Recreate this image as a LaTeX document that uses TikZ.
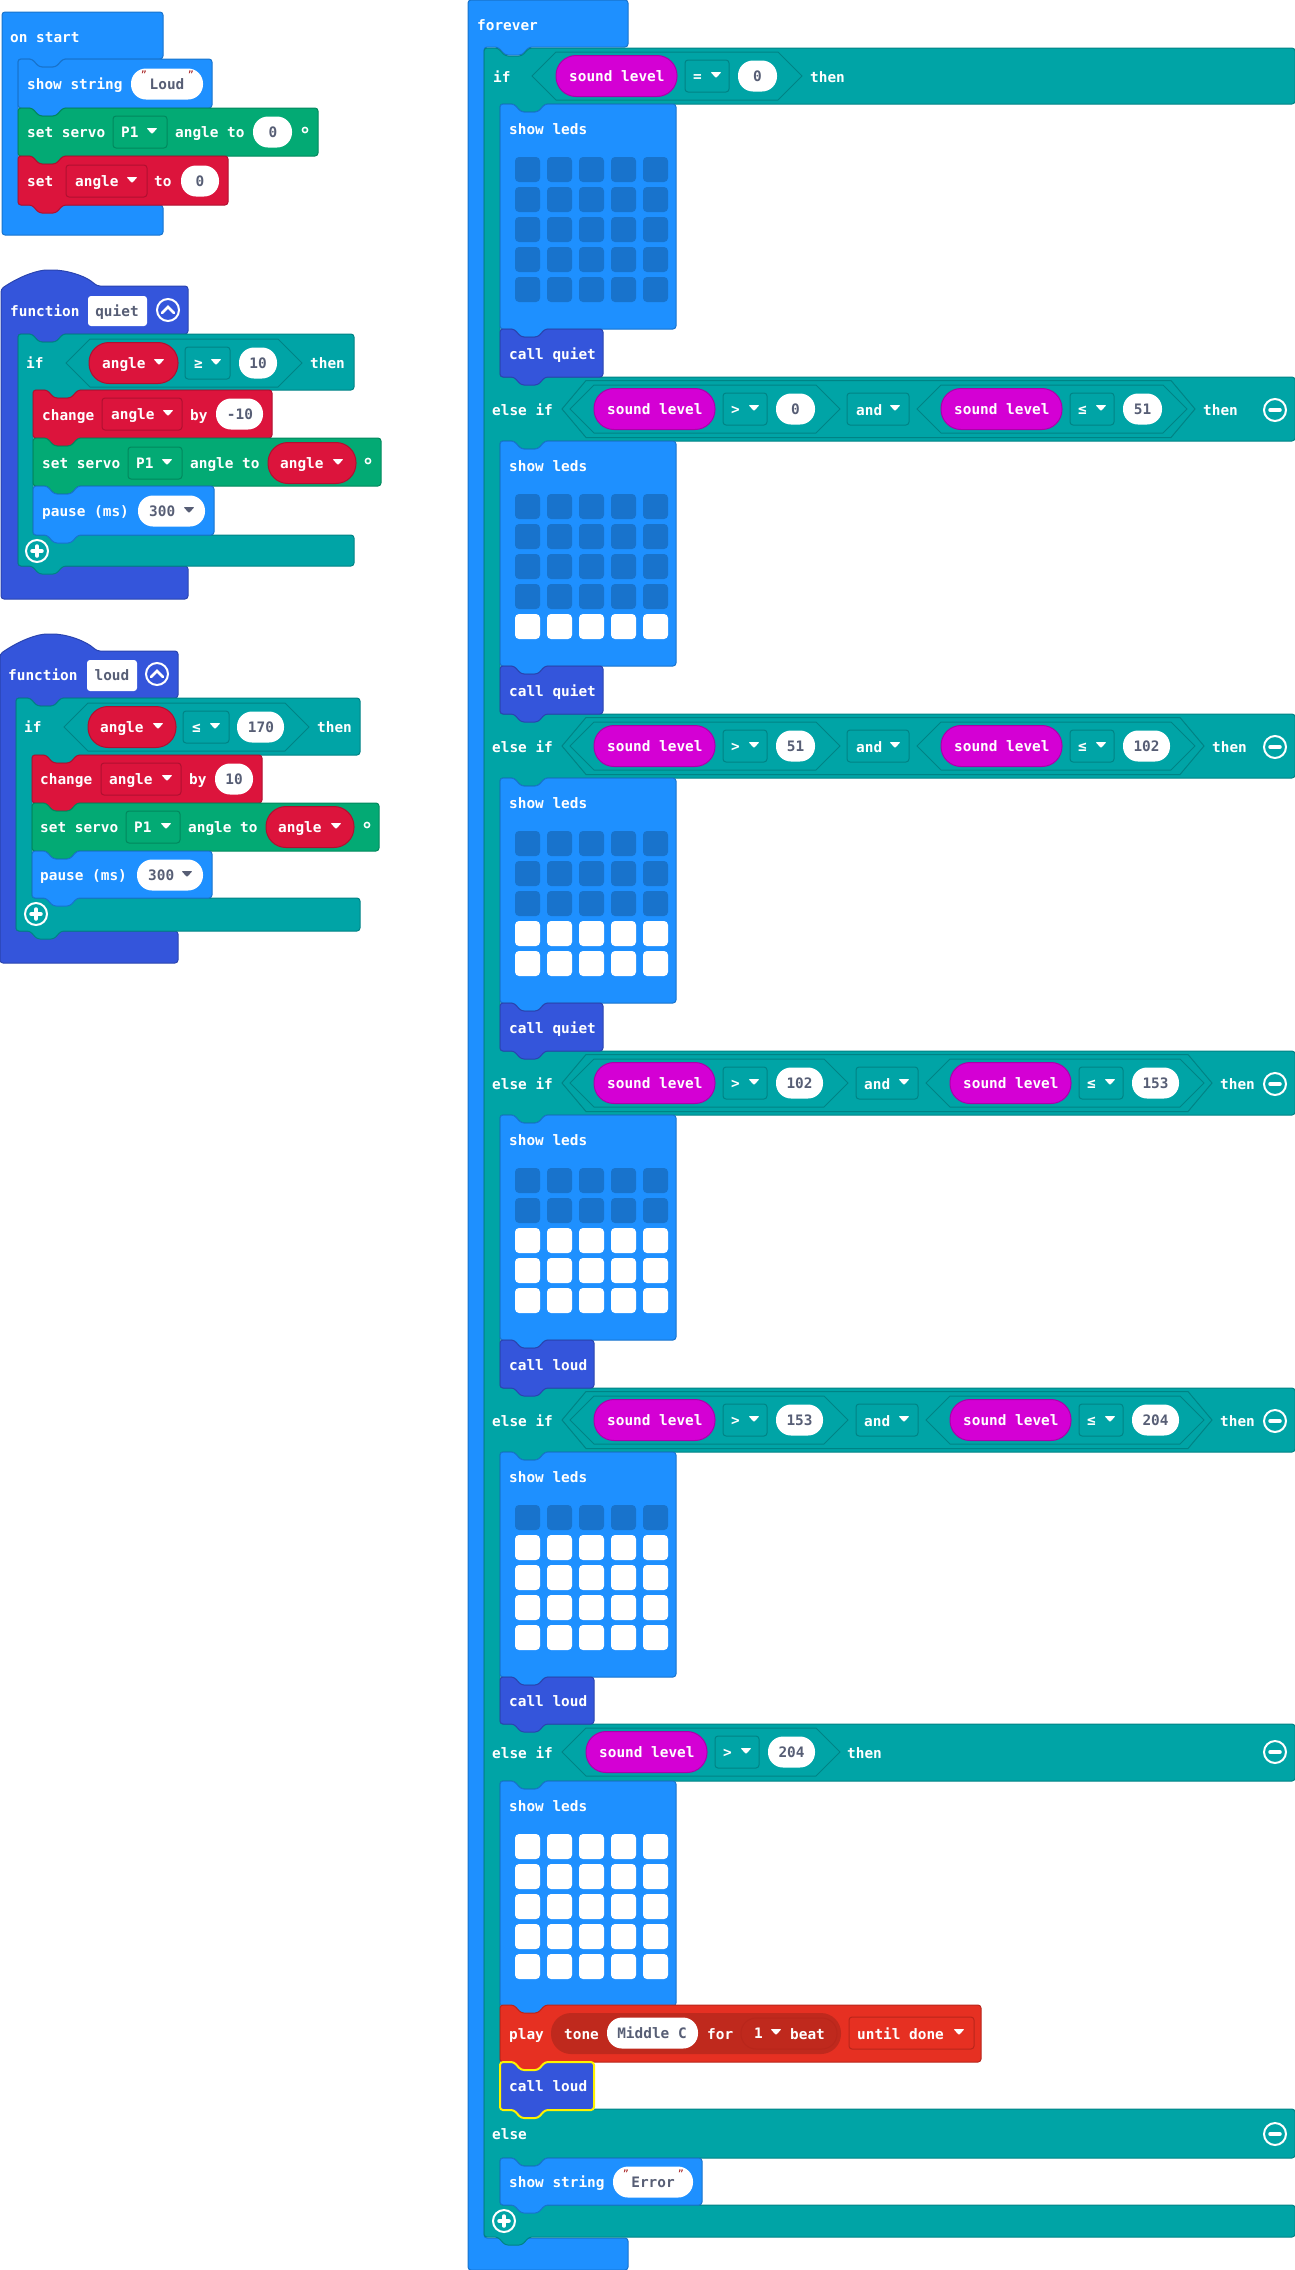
\documentclass[tikz,border=0pt]{standalone}
\usepackage{fontspec}
\setmainfont{DejaVu Sans Mono}
\usepackage{tikz}

\definecolor{basicblue}{HTML}{1E90FF}
\definecolor{basicdark}{HTML}{1873CC}
\definecolor{logicteal}{HTML}{00A4A6}
\definecolor{logicdark}{HTML}{008385}
\definecolor{servogreen}{HTML}{03AA74}
\definecolor{servodark}{HTML}{02885D}
\definecolor{varred}{HTML}{DC143C}
\definecolor{vardark}{HTML}{B01030}
\definecolor{funcblue}{HTML}{3455DB}
\definecolor{funcdark}{HTML}{2A44AF}
\definecolor{inputpink}{HTML}{D400D4}
\definecolor{inputdark}{HTML}{AA00AA}
\definecolor{musicred}{HTML}{E63022}
\definecolor{musicdark}{HTML}{B8261B}
\definecolor{musicpill}{HTML}{BF291D}
\definecolor{fieldgray}{HTML}{575E75}
\definecolor{quotered}{HTML}{A31515}

\newcommand{\blockfont}{\fontsize{14.4}{16}\selectfont\bfseries}
\tikzset{
  lab/.style={text=white,font=\blockfont,inner sep=0pt,anchor=west,text height=10.5pt,text depth=0pt},
  val/.style={text=fieldgray,font=\blockfont,inner sep=0pt,anchor=center,text height=10.5pt,text depth=0pt},
  vall/.style={val,anchor=west},
  quotemark/.style={text=quotered,font=\fontsize{10}{10}\selectfont,inner sep=0pt,anchor=center},
  basicblock/.style={fill=basicblue,draw=basicdark,line width=1pt,rounded corners=3},
  logicblock/.style={fill=logicteal,draw=logicdark,line width=1pt,rounded corners=3},
  servoblock/.style={fill=servogreen,draw=servodark,line width=1pt,rounded corners=3},
  varblock/.style={fill=varred,draw=vardark,line width=1pt,rounded corners=3},
  funcblock/.style={fill=funcblue,draw=funcdark,line width=1pt,rounded corners=3},
  musicblock/.style={fill=musicred,draw=musicdark,line width=1pt,rounded corners=3},
  hexline/.style={draw=logicdark,line width=1pt}
}

\newcounter{blocknode}
\newcommand{\lab}[4][lab]{\stepcounter{blocknode}\node[#1] (n\theblocknode) at (#2,#3) {#4};}
\newcommand{\ntop}[2]{-- ({#1+14},#2) -- ({#1+21},{#2+8}) -- ({#1+38},{#2+8}) -- ({#1+45},#2)}
\newcommand{\ntab}[2]{-- ({#1+45},#2) -- ({#1+38},{#2+8}) -- ({#1+21},{#2+8}) -- ({#1+14},#2)}
% style, x1, y1, x2, y2
\newcommand{\stackblock}[5]{\draw[#1] (#2,#3) \ntop{#2}{#3} -- (#4,#3) -- (#4,#5) \ntab{#2}{#5} -- (#2,#5) -- cycle;}
\newcommand{\tri}[3][white]{\fill[#1,rounded corners=1] ({#2-5.5},{#3-4}) -- ({#2+5.5},{#3-4}) -- (#2,{#3+2}) -- cycle;}
% dropdown: colour, dark, x1, x2, y
\newcommand{\dropbox}[5]{\draw[fill=#1,draw=#2,line width=1pt,rounded corners=3] (#3,{#5-16}) rectangle (#4,{#5+16});}
\newcommand{\whitepill}[3]{\fill[white,rounded corners=15] (#1,{#3-15.5}) rectangle (#2,{#3+15.5});}
\newcommand{\pill}[5]{\draw[fill=#1,draw=#2,line width=1pt,rounded corners=20] (#3,{#5-20.5}) rectangle (#4,{#5+20.5});}
% left tip, right tip, y, half height
\newcommand{\hexa}[4]{\draw[hexline] (#1,#3) -- ({#1+24},{#3-#4}) -- ({#2-24},{#3-#4}) -- (#2,#3) -- ({#2-24},{#3+#4}) -- ({#1+24},{#3+#4}) -- cycle;}
% left tip, y, operator, value, width of value
\newcommand{\soundcmp}[5]{
  \hexa{#1}{#1+231+#5}{#2}{24}
  \pill{inputpink}{inputdark}{#1+24}{#1+145}{#2}
  \lab{#1+37}{#2}{sound level}
  \dropbox{logicteal}{logicdark}{#1+153}{#1+197}{#2}
  \lab{#1+161}{#2}{#3}
  \tri{#1+184}{#2}
  \whitepill{#1+206}{#1+206+#5}{#2}
  \lab[val]{#1+206+#5/2}{#2}{#4}
}
\newcommand{\showleds}[2]{
  \stackblock{basicblock}{500}{#1}{676}{#1+225}
  \lab{509}{#1+25}{show leds}
  \foreach \col in {0,...,4} {
    \foreach \row in {0,...,4} {
      \pgfmathparse{\row>=5-#2?"white":"basicdark"}
      \fill[\pgfmathresult,rounded corners=4] ({515+32*\col},{#1+53+30*\row}) rectangle ++(25,25);
    }
  }
}
\newcommand{\minusicon}[2]{
  \draw[white,line width=2pt] (#1,#2) circle (11);
  \draw[white,line width=3.5pt,line cap=round] ({#1-5},#2) -- ({#1+5},#2);
}
\newcommand{\plusicon}[2]{
  \draw[white,line width=2pt] (#1,#2) circle (11);
  \draw[white,line width=3.5pt,line cap=round] ({#1-5},#2) -- ({#1+5},#2) (#1,{#2-5}) -- (#1,{#2+5});
}
\newcommand{\upicon}[2]{
  \draw[white,line width=2pt] (#1,#2) circle (11);
  \draw[white,line width=2.5pt,line cap=round] ({#1-6},{#2+3}) -- (#1,{#2-3}) -- ({#1+6},{#2+3});
}
\newcommand{\degmark}[2]{\draw[white,line width=1.5pt] (#1,#2) circle (2.6);}

\begin{document}
\begin{tikzpicture}[x=1pt,y=-1pt]
  \useasboundingbox (0,0) rectangle (1295,2270);

  % on start
  \draw[basicblock] (2,12) -- (163,12) -- (163,59) \ntab{18}{59} -- (18,59) -- (18,205) -- (163,205) -- (163,235) -- (2,235) -- cycle;
  \lab{10}{37}{on start}
  \stackblock{basicblock}{18}{59}{212}{108}
  \lab{27}{84}{show string}
  \whitepill{131}{203}{84}
  \lab[val]{167}{84}{Loud}
  \lab[quotemark]{144}{75}{"}
  \lab[quotemark]{191}{75}{"}
  \stackblock{servoblock}{18}{108}{318}{156}
  \lab{27}{132}{set servo}
  \dropbox{servogreen}{servodark}{113}{167}{132}
  \lab{121}{132}{P1}
  \tri{152}{132}
  \lab{175}{132}{angle to}
  \whitepill{253}{292}{132}
  \lab[val]{273}{132}{0}
  \degmark{305}{130}
  \stackblock{varblock}{18}{156}{228}{205}
  \lab{27}{181}{set}
  \dropbox{varred}{vardark}{66}{147}{181}
  \lab{75}{181}{angle}
  \tri{132}{181}
  \lab{154}{181}{to}
  \whitepill{181}{219}{181}
  \lab[val]{200}{181}{0}

  % function quiet
  \draw[funcblock] (1,289) .. controls (20,276) and (38,270) .. (50,270) .. controls (65,270) and (85,275) .. (97,286) -- (188,286) -- (188,334) \ntab{18}{334} -- (18,334) -- (18,566) -- (188,566) -- (188,599) -- (1,599) -- cycle;
  \lab{10}{311}{function}
  \fill[white,rounded corners=3] (88,296) rectangle (147,326);
  \lab[val]{117}{311}{quiet}
  \upicon{168}{310}
  \draw[logicblock] (18,334) \ntop{18}{334} -- (354,334) -- (354,390) \ntab{33}{390} -- (33,390) -- (33,535) -- (354,535) -- (354,566) \ntab{18}{566} -- (18,566) -- cycle;
  \lab{26}{363}{if}
  \hexa{66}{302}{363}{24}
  \pill{varred}{vardark}{89}{178}{363}
  \lab{102}{363}{angle}
  \tri{159}{363}
  \dropbox{logicteal}{logicdark}{185}{230}{363}
  \lab{194}{363}{≥}
  \tri{216}{363}
  \whitepill{239}{277}{363}
  \lab[val]{258}{363}{10}
  \lab{310}{363}{then}
  \stackblock{varblock}{33}{390}{272}{438}
  \lab{42}{415}{change}
  \dropbox{varred}{vardark}{102}{182}{414}
  \lab{111}{414}{angle}
  \tri{168}{414}
  \lab{190}{415}{by}
  \whitepill{216}{263}{414}
  \lab[val]{240}{414}{-10}
  \stackblock{servoblock}{33}{438}{381}{486}
  \lab{42}{463}{set servo}
  \dropbox{servogreen}{servodark}{128}{182}{463}
  \lab{136}{463}{P1}
  \tri{167}{463}
  \lab{190}{463}{angle to}
  \pill{varred}{vardark}{268}{356}{463}
  \lab{280}{463}{angle}
  \tri{338}{463}
  \degmark{368}{461}
  \stackblock{basicblock}{33}{486}{214}{535}
  \lab{42}{511}{pause (ms)}
  \whitepill{138}{205}{511}
  \lab[vall]{149}{511}{300}
  \tri[fieldgray]{189}{511}
  \plusicon{37}{551}

  % function loud
  \draw[funcblock] (0,654) .. controls (20,640) and (38,634) .. (50,634) .. controls (65,634) and (85,640) .. (97,651) -- (178,651) -- (178,698) \ntab{16}{698} -- (16,698) -- (16,931) -- (178,931) -- (178,963) -- (0,963) -- cycle;
  \lab{8}{675}{function}
  \fill[white,rounded corners=3] (87,660) rectangle (137,691);
  \lab[val]{112}{675}{loud}
  \upicon{157}{674}
  \draw[logicblock] (16,698) \ntop{16}{698} -- (360,698) -- (360,755) \ntab{32}{755} -- (32,755) -- (32,898) -- (360,898) -- (360,931) \ntab{16}{931} -- (16,931) -- cycle;
  \lab{24}{727}{if}
  \hexa{64}{309}{727}{24}
  \pill{varred}{vardark}{88}{176}{727}
  \lab{100}{727}{angle}
  \tri{158}{727}
  \dropbox{logicteal}{logicdark}{183}{229}{727}
  \lab{192}{727}{≤}
  \tri{215}{727}
  \whitepill{237}{284}{727}
  \lab[val]{261}{727}{170}
  \lab{317}{727}{then}
  \stackblock{varblock}{32}{755}{262}{803}
  \lab{40}{779}{change}
  \dropbox{varred}{vardark}{101}{181}{779}
  \lab{109}{779}{angle}
  \tri{167}{779}
  \lab{189}{779}{by}
  \whitepill{215}{253}{779}
  \lab[val]{234}{779}{10}
  \stackblock{servoblock}{32}{803}{379}{851}
  \lab{40}{827}{set servo}
  \dropbox{servogreen}{servodark}{126}{180}{827}
  \lab{134}{827}{P1}
  \tri{166}{827}
  \lab{188}{827}{angle to}
  \pill{varred}{vardark}{266}{354}{827}
  \lab{278}{827}{angle}
  \tri{336}{827}
  \degmark{367}{825}
  \stackblock{basicblock}{32}{851}{212}{898}
  \lab{40}{875}{pause (ms)}
  \whitepill{137}{203}{875}
  \lab[vall]{148}{875}{300}
  \tri[fieldgray]{187}{875}
  \plusicon{36}{914}

  % forever
  \draw[basicblock] (468,0) -- (628,0) -- (628,47) \ntab{484}{47} -- (484,47) -- (484,2238) -- (628,2238) -- (628,2270) -- (468,2270) -- cycle;
  \lab{477}{25}{forever}
  \draw[logicblock] (484,48) \ntop{484}{48} -- (1295,48) -- (1295,104) \ntab{500}{104} -- (500,104) -- (500,377)
    -- (1295,377) -- (1295,441) \ntab{500}{441} -- (500,441) -- (500,714)
    -- (1295,714) -- (1295,778) \ntab{500}{778} -- (500,778) -- (500,1051)
    -- (1295,1051) -- (1295,1115) \ntab{500}{1115} -- (500,1115) -- (500,1388)
    -- (1295,1388) -- (1295,1452) \ntab{500}{1452} -- (500,1452) -- (500,1724)
    -- (1295,1724) -- (1295,1781) \ntab{500}{1781} -- (500,1781) -- (500,2109)
    -- (1295,2109) -- (1295,2158) \ntab{500}{2158} -- (500,2158) -- (500,2205)
    -- (1295,2205) -- (1295,2237) \ntab{484}{2237} -- (484,2237) -- cycle;

  \lab{493}{77}{if}
  \soundcmp{532}{76}{=}{0}{39}
  \lab{810}{77}{then}
  \showleds{104}{0}
  \stackblock{funcblock}{500}{329}{603}{377}
  \lab{509}{354}{call quiet}

  \lab{492}{410}{else if}
  \hexa{562}{1195}{409}{28.5}
  \soundcmp{570}{409}{>}{0}{39}
  \dropbox{logicteal}{logicdark}{847}{909}{409}
  \lab{856}{410}{and}
  \tri{895}{409}
  \soundcmp{917}{409}{≤}{51}{39}
  \lab{1203}{410}{then}
  \minusicon{1275}{410}
  \showleds{441}{1}
  \stackblock{funcblock}{500}{666}{603}{714}
  \lab{509}{691}{call quiet}

  \lab{492}{747}{else if}
  \hexa{562}{1204}{746}{28.5}
  \soundcmp{570}{746}{>}{51}{39}
  \dropbox{logicteal}{logicdark}{847}{909}{746}
  \lab{856}{747}{and}
  \tri{895}{746}
  \soundcmp{917}{746}{≤}{102}{47}
  \lab{1212}{747}{then}
  \minusicon{1275}{747}
  \showleds{778}{2}
  \stackblock{funcblock}{500}{1003}{603}{1051}
  \lab{509}{1028}{call quiet}

  \lab{492}{1084}{else if}
  \hexa{562}{1212}{1083}{28.5}
  \soundcmp{570}{1083}{>}{102}{47}
  \dropbox{logicteal}{logicdark}{856}{918}{1083}
  \lab{864}{1084}{and}
  \tri{904}{1083}
  \soundcmp{926}{1083}{≤}{153}{47}
  \lab{1220}{1084}{then}
  \minusicon{1275}{1084}
  \showleds{1115}{3}
  \stackblock{funcblock}{500}{1340}{594}{1388}
  \lab{509}{1365}{call loud}

  \lab{492}{1421}{else if}
  \hexa{562}{1212}{1420}{28.5}
  \soundcmp{570}{1420}{>}{153}{47}
  \dropbox{logicteal}{logicdark}{856}{918}{1420}
  \lab{864}{1421}{and}
  \tri{904}{1420}
  \soundcmp{926}{1420}{≤}{204}{47}
  \lab{1220}{1421}{then}
  \minusicon{1275}{1421}
  \showleds{1452}{4}
  \stackblock{funcblock}{500}{1677}{594}{1724}
  \lab{509}{1701}{call loud}

  \lab{492}{1753}{else if}
  \soundcmp{562}{1752}{>}{204}{47}
  \lab{847}{1753}{then}
  \minusicon{1275}{1752}
  \showleds{1781}{5}

  % play tone
  \stackblock{musicblock}{500}{2005}{981}{2062}
  \lab{509}{2034}{play}
  \fill[musicpill,rounded corners=20] (551,2013) rectangle (841,2054);
  \lab{564}{2034}{tone}
  \whitepill{607}{698}{2033}
  \lab[val]{652}{2033}{Middle C}
  \lab{707}{2034}{for}
  \draw[musicdark,line width=1pt,rounded corners=15] (741,2018) rectangle (837,2049);
  \lab{754}{2033}{1}
  \tri{776}{2033}
  \lab{790}{2034}{beat}
  \dropbox{musicred}{musicdark}{849}{974}{2033}
  \lab{857}{2034}{until done}
  \tri{959}{2033}
  \stackblock{funcblock,draw=yellow,line width=2pt}{500}{2062}{594}{2110}
  \lab{509}{2086}{call loud}

  \lab{492}{2134}{else}
  \minusicon{1275}{2134}
  \stackblock{basicblock}{500}{2158}{702}{2205}
  \lab{509}{2182}{show string}
  \whitepill{613}{693}{2182}
  \lab[val]{653}{2182}{Error}
  \lab[quotemark]{626}{2174}{"}
  \lab[quotemark]{681}{2174}{"}
  \plusicon{504}{2221}
\end{tikzpicture}
\end{document}
